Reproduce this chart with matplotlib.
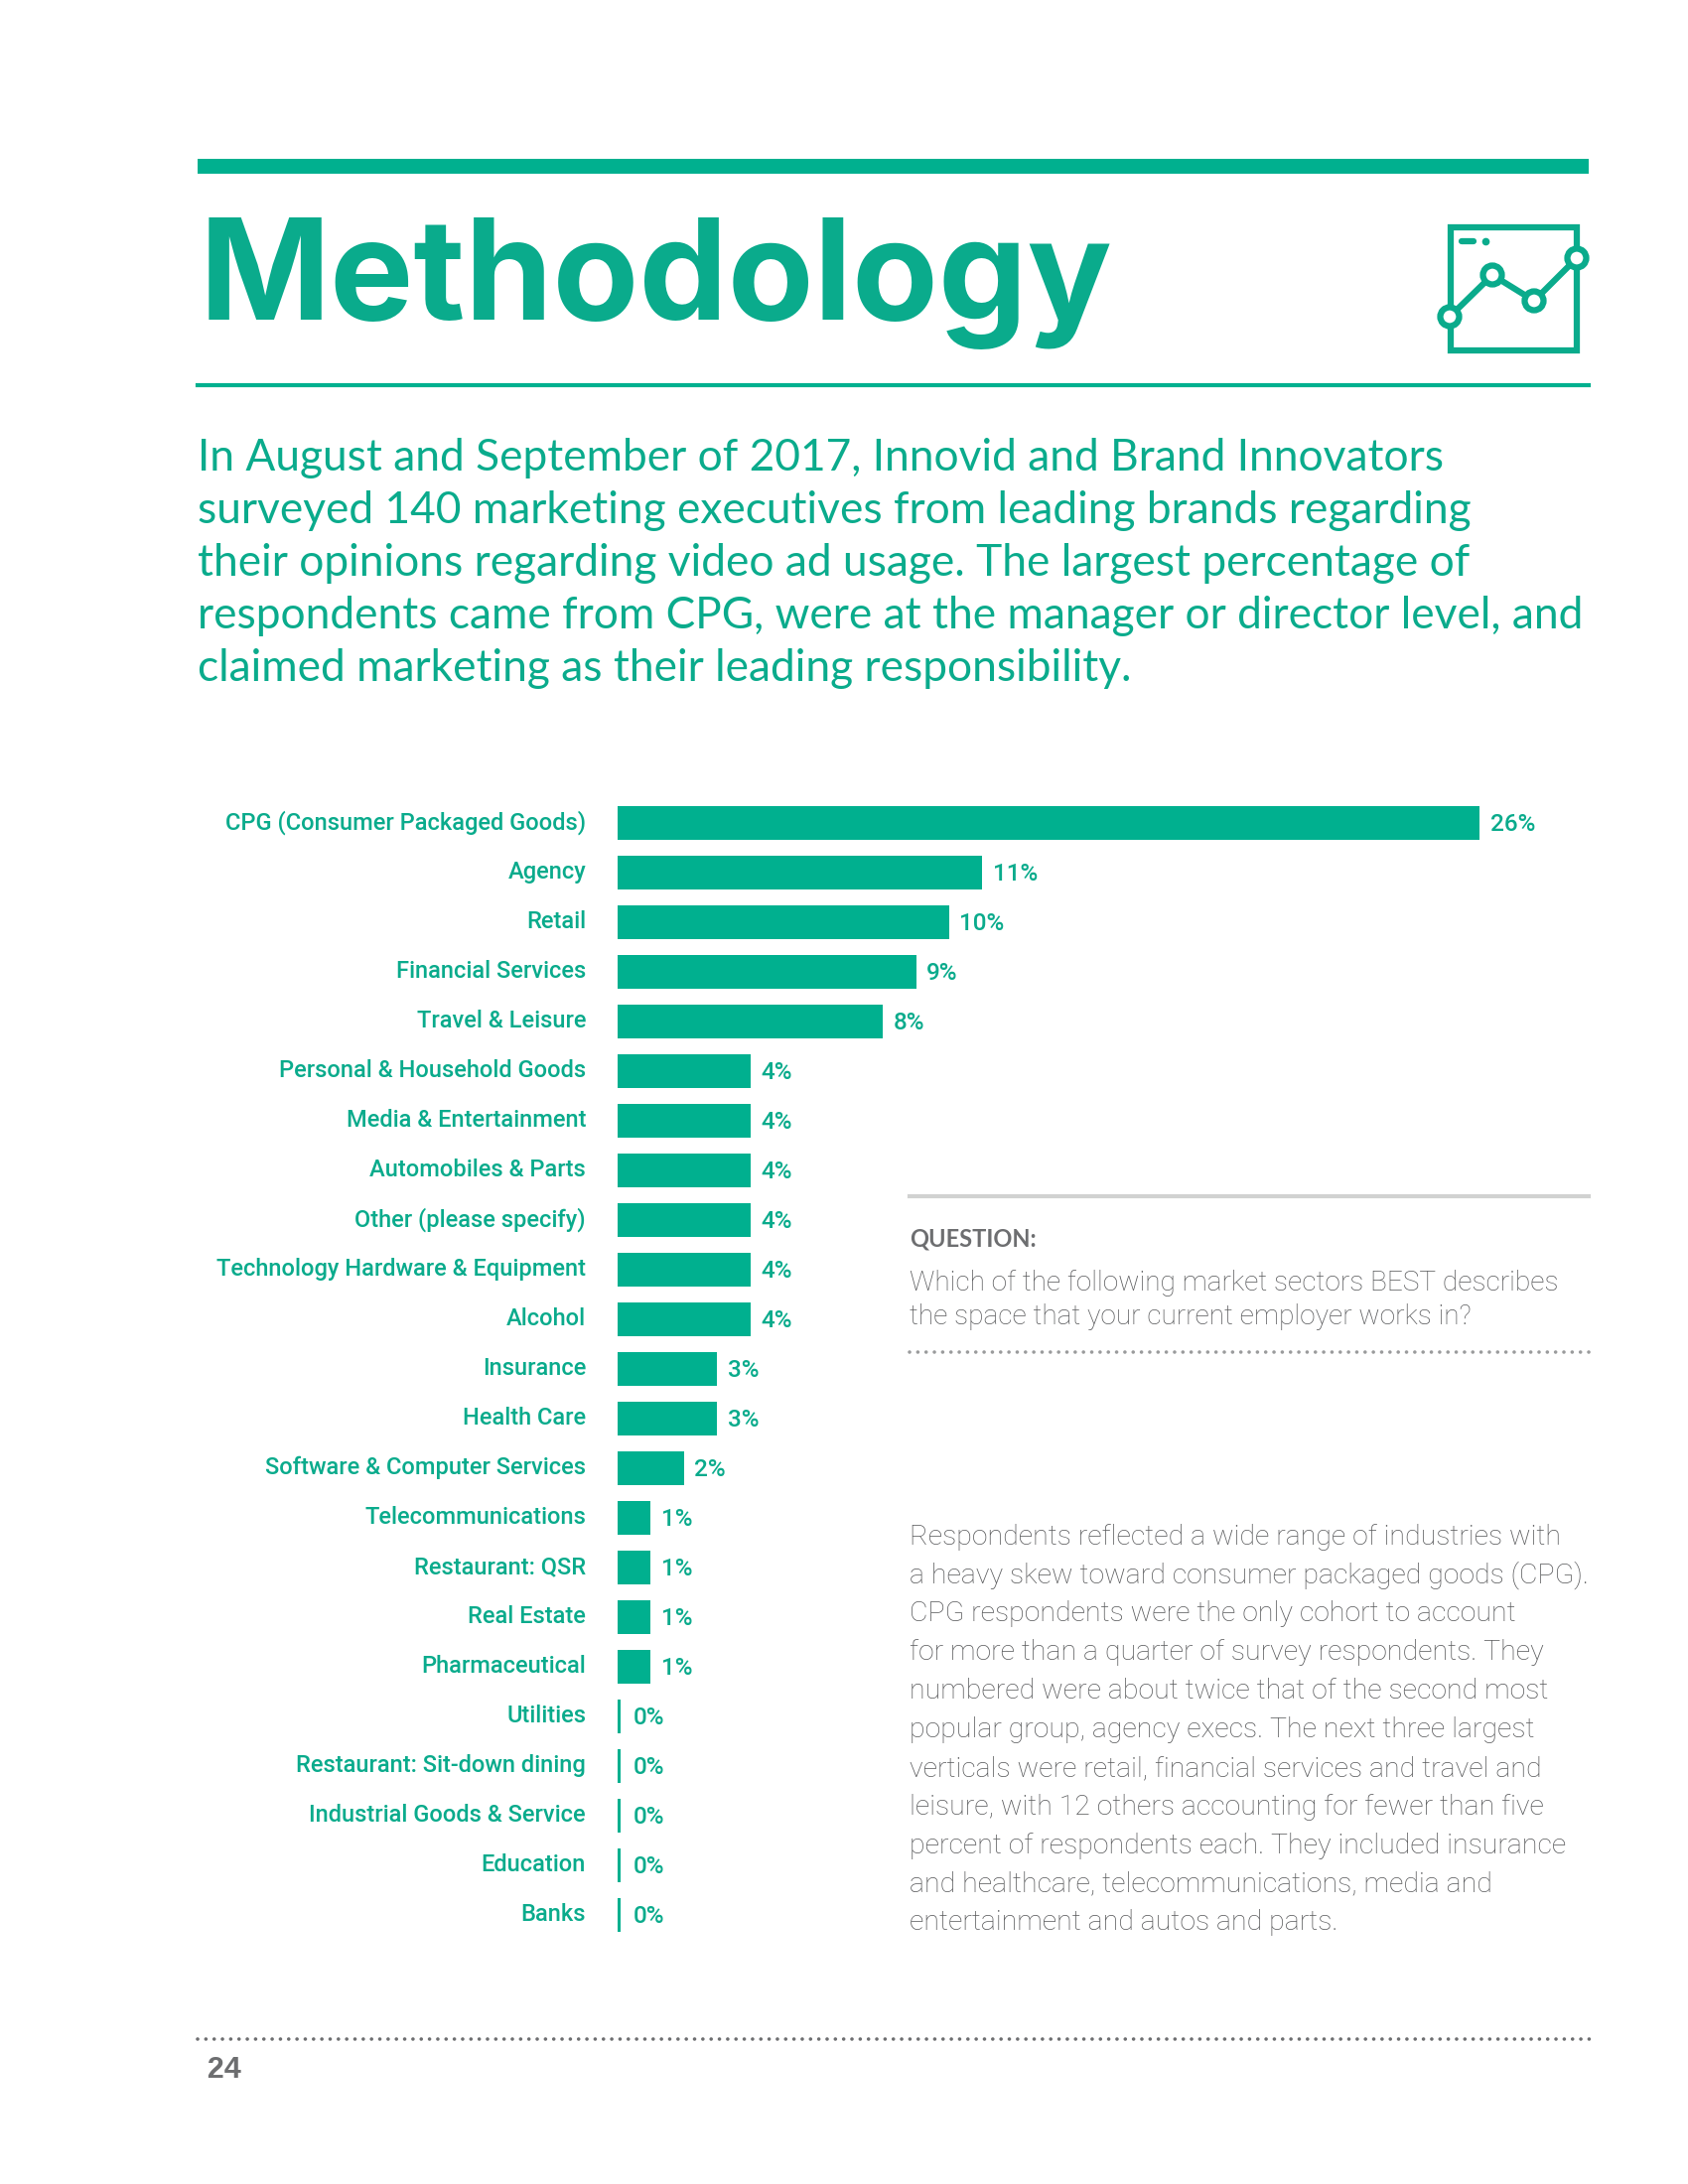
import matplotlib
matplotlib.use('Agg')
import matplotlib.pyplot as plt
from matplotlib.patches import Rectangle, Circle
from matplotlib.transforms import ScaledTranslation

# chart data
sectors = ['CPG (Consumer Packaged Goods)', 'Agency', 'Retail', 'Financial Services', 'Travel & Leisure',
           'Personal & Household Goods', 'Media & Entertainment', 'Automobiles & Parts', 'Other (please specify)',
           'Technology Hardware & Equipment', 'Alcohol', 'Insurance', 'Health Care', 'Software & Computer Services',
           'Telecommunications', 'Restaurant: QSR', 'Real Estate', 'Pharmaceutical', 'Utilities',
           'Restaurant: Sit-down dining', 'Industrial Goods & Service', 'Education', 'Banks']
shares = [26, 11, 10, 9, 8, 4, 4, 4, 4, 4, 4, 3, 3, 2, 1, 1, 1, 1, 0, 0, 0, 0, 0]

intro = ['In August and September of 2017, Innovid and Brand Innovators',
         'surveyed 140 marketing executives from leading brands regarding',
         'their opinions regarding video ad usage. The largest percentage of',
         'respondents came from CPG, were at the manager or director level, and',
         'claimed marketing as their leading responsibility.']
question = ['Which of the following market sectors BEST describes',
            'the space that your current employer works in?']
body = ['Respondents reflected a wide range of industries with',
        'a heavy skew toward consumer packaged goods (CPG).',
        'CPG respondents were the only cohort to account',
        'for more than a quarter of survey respondents. They',
        'numbered were about twice that of the second most',
        'popular group, agency execs. The next three largest',
        'verticals were retail, financial services and travel and',
        'leisure, with 12 others accounting for fewer than five',
        'percent of respondents each. They included insurance',
        'and healthcare, telecommunications, media and',
        'entertainment and autos and parts.']

GREEN = '#00b08f'
TEXT_GREEN = '#0aab8c'
GREY = '#6d6e70'
BODY_GREY = '#58595b'
plt.rcParams['font.family'] = ['Lato', 'DejaVu Sans']

fig = plt.figure(figsize=(17, 22), dpi=100)

# page layer in pixel coordinates
page = fig.add_axes([0, 0, 1, 1])
page.set_xlim(0, 1700)
page.set_ylim(2200, 0)
page.axis('off')

page.add_patch(Rectangle((199, 160), 1401, 15, color=GREEN, lw=0))
page.text(201, 322, 'Methodology', color=TEXT_GREEN, fontsize=102, fontweight='bold', family='Inter',
          va='baseline', ha='left')
page.plot([199, 1600], [388, 388], color=GREEN, lw=3)

# little chart icon
page.add_patch(Rectangle((1461, 229), 127, 124, fill=False, ec=TEXT_GREEN, lw=4.5))
page.plot([1460, 1503, 1545, 1588], [319, 277, 303, 260], color=TEXT_GREEN, lw=4.5)
for cx, cy in [(1460, 319), (1503, 277), (1545, 303), (1588, 260)]:
    page.add_patch(Circle((cx, cy), 9.5, fc='white', ec=TEXT_GREEN, lw=4.5, zorder=3))
page.plot([1472, 1484], [243, 243], color=TEXT_GREEN, lw=4.5, solid_capstyle='round')
page.plot([1496], [243], 'o', color=TEXT_GREEN, ms=4.5)

for i, line in enumerate(intro):
    page.text(199, 461 + i * 53.2, line, color=TEXT_GREEN, fontsize=31.9, va='center', ha='left')

# question box
page.plot([916, 1600], [1205, 1205], color='#d1d2d1', lw=3)
page.text(916, 1248, 'QUESTION:', color=GREY, fontsize=17, fontweight='bold', va='center')
for i, line in enumerate(question):
    page.text(916, 1292 + i * 35, line, color=BODY_GREY, fontsize=20.2, family='Roboto', fontweight='light', va='center')
page.plot([916, 1606], [1362, 1362], color='#9a9b9c', lw=2.6, ls=(0, (0.01, 2.3)), dash_capstyle='round')

for i, line in enumerate(body):
    page.text(916, 1548 + i * 38.9, line, color=BODY_GREY, fontsize=20.5, family='Roboto', fontweight='light', va='center')

page.plot([199, 1606], [2054, 2054], color='#6d6e70', lw=2.6, ls=(0, (0.01, 2.3)), dash_capstyle='round')
page.text(207, 2085, '24', color=GREY, fontsize=22, family='Liberation Mono', fontweight='bold', va='center')

# bar chart, rows 50px apart starting with the first bar centred at y=829
ax = fig.add_axes([622 / 1700, 1 - 1954 / 2200, 978 / 1700, 1150 / 2200])
rows = list(range(len(sectors)))
ax.barh(rows, [max(v, 0.1) for v in shares], height=0.68, color=GREEN)
ax.set_ylim(len(sectors) - 0.5, -0.5)
ax.set_xlim(0, 978 / 33.4)
ax.set_yticks(rows)
ax.set_yticklabels(sectors, color=TEXT_GREEN, fontsize=17, family='Roboto', fontweight='medium')
ax.tick_params(axis='y', length=0, pad=23)
# labels sit a little above the bar centres in the original
nudge = ScaledTranslation(0, 3 / 100, fig.dpi_scale_trans)
for t in ax.get_yticklabels():
    t.set_transform(t.get_transform() + nudge)
ax.set_xticks([])
for s in ax.spines.values():
    s.set_visible(False)
ax.patch.set_alpha(0)
for r, v in zip(rows, shares):
    ax.annotate(f'{v}%', (max(v, 0.1), r), xytext=(7.5 if v else 9, -1), textcoords='offset points',
                color=TEXT_GREEN, fontsize=17.5, family='Roboto', fontweight='medium', va='center')

fig.savefig('out.png', dpi=100, facecolor='white')
